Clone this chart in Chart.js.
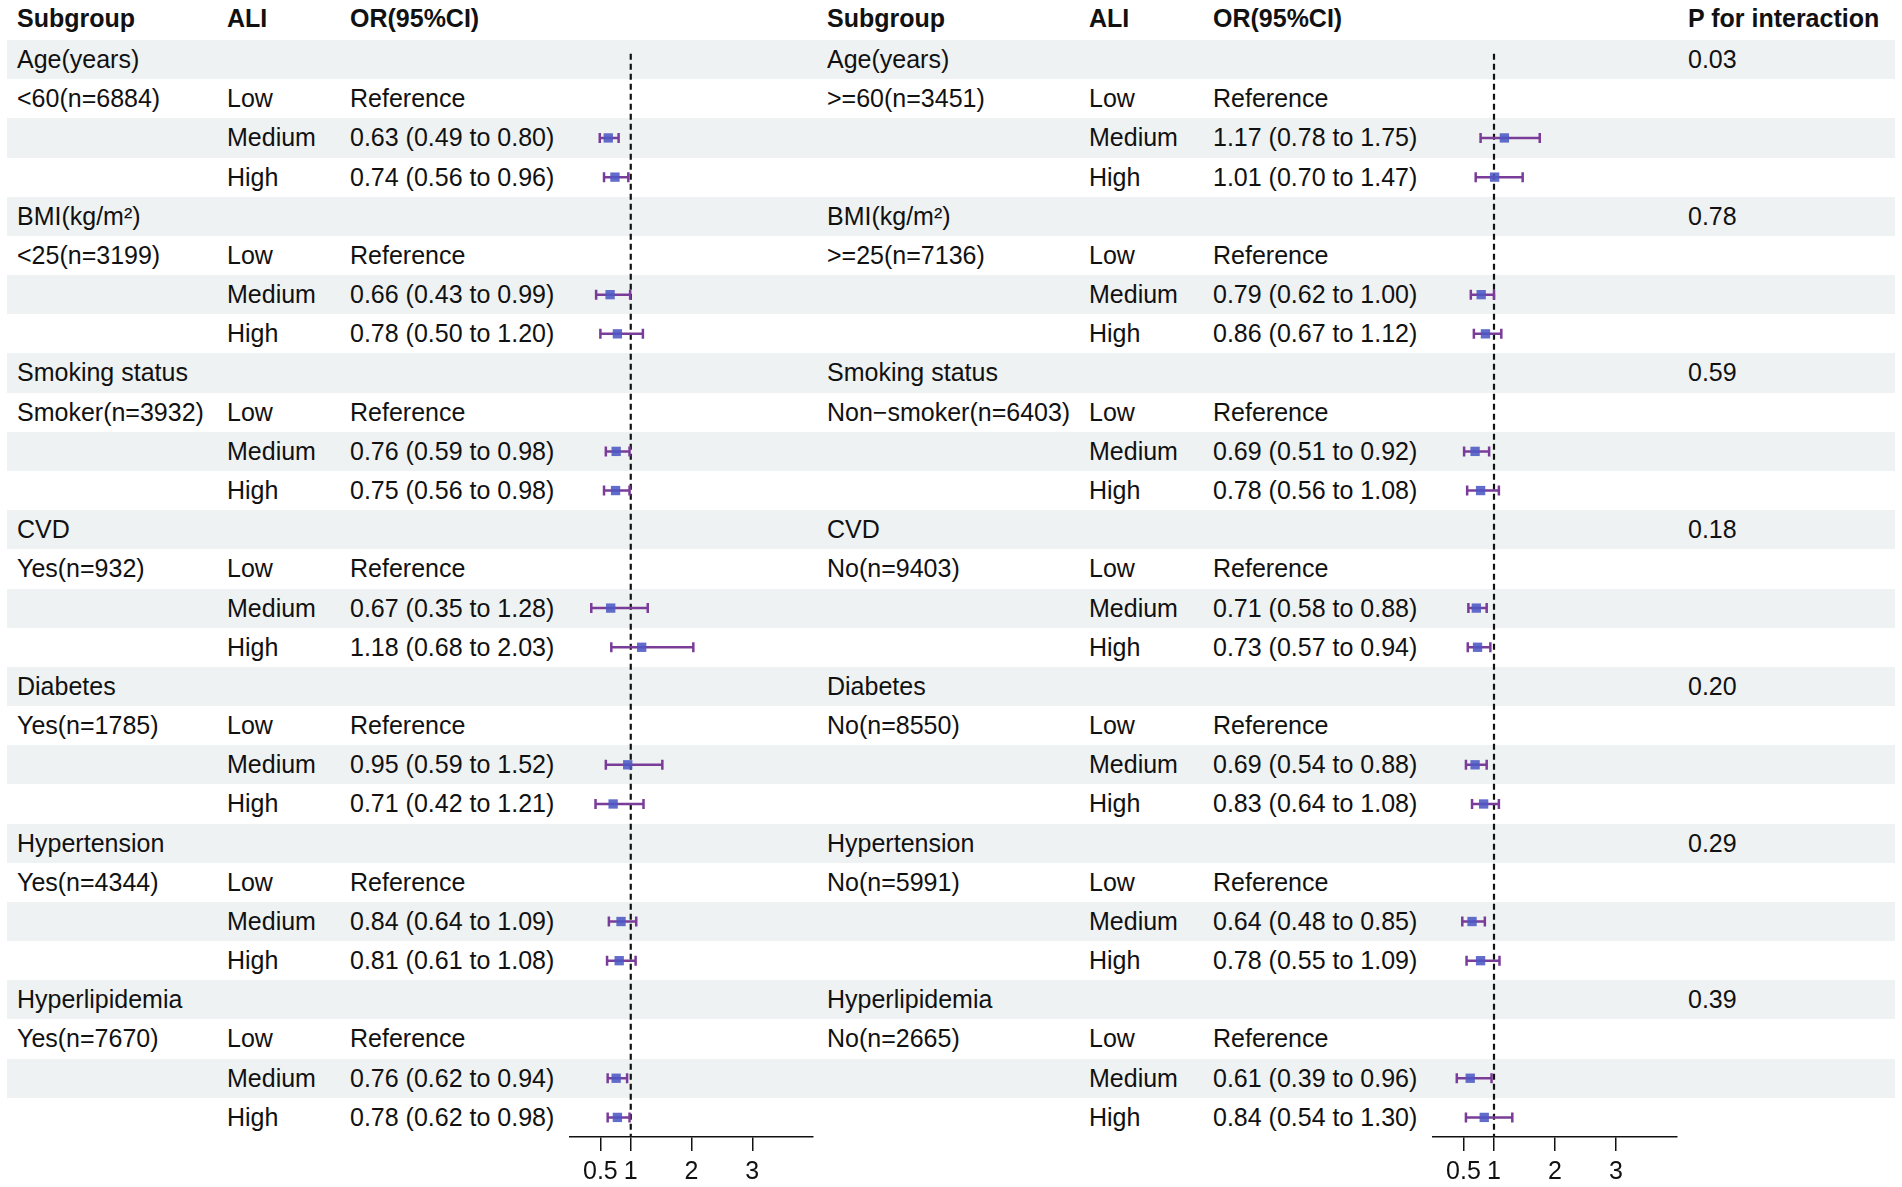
<!DOCTYPE html>
<html>
<head>
<meta charset="utf-8">
<script src="https://cdn.jsdelivr.net/npm/chart.js@4.4.0/dist/chart.umd.min.js"></script>
<style>
    body { margin: 0; background: #fff; }
    #page { position: relative; width: 1902px; height: 1187px; overflow: hidden;
            font-family: "Liberation Sans", Arial, Helvetica, sans-serif; font-size: 25px; color: #111; }
    .band { position: absolute; left: 7px; width: 1888px; background: #eff2f2; }
    .cell { position: absolute; white-space: nowrap; }
    .head { font-weight: bold; }
    .panel { position: absolute; left: 0; top: 0; width: 1902px; height: 1187px; }
</style>
</head>
<body>
<div id="page">
    <div id="table"></div>
    <div class="panel"><canvas id="left_chart"></canvas></div>
    <div class="panel"><canvas id="right_chart"></canvas></div>
</div>
<script>
/* Data */
const groups = ['Age(years)', 'BMI(kg/m²)', 'Smoking status', 'CVD', 'Diabetes', 'Hypertension', 'Hyperlipidemia'];
const levels = ['Low', 'Medium', 'High'];

const leftSubgroups = ['<60(n=6884)', '<25(n=3199)', 'Smoker(n=3932)', 'Yes(n=932)', 'Yes(n=1785)', 'Yes(n=4344)', 'Yes(n=7670)'];
const rightSubgroups = ['>=60(n=3451)', '>=25(n=7136)', 'Non\u2212smoker(n=6403)', 'No(n=9403)', 'No(n=8550)', 'No(n=5991)', 'No(n=2665)'];

// Medium, High for each group in turn
const leftEst   = [0.63, 0.74, 0.66, 0.78, 0.76, 0.75, 0.67, 1.18, 0.95, 0.71, 0.84, 0.81, 0.76, 0.78];
const leftLower = [0.49, 0.56, 0.43, 0.50, 0.59, 0.56, 0.35, 0.68, 0.59, 0.42, 0.64, 0.61, 0.62, 0.62];
const leftUpper = [0.80, 0.96, 0.99, 1.20, 0.98, 0.98, 1.28, 2.03, 1.52, 1.21, 1.09, 1.08, 0.94, 0.98];

const rightEst   = [1.17, 1.01, 0.79, 0.86, 0.69, 0.78, 0.71, 0.73, 0.69, 0.83, 0.64, 0.78, 0.61, 0.84];
const rightLower = [0.78, 0.70, 0.62, 0.67, 0.51, 0.56, 0.58, 0.57, 0.54, 0.64, 0.48, 0.55, 0.39, 0.54];
const rightUpper = [1.75, 1.47, 1.00, 1.12, 0.92, 1.08, 0.88, 0.94, 0.88, 1.08, 0.85, 1.09, 0.96, 1.30];

const pInteraction = ['0.03', '0.78', '0.59', '0.18', '0.20', '0.29', '0.39'];

const xTicks = [0.5, 1, 2, 3];

/* Layout */
const rowTop = 40;
const rowH = (1137 - 40) / 28;
const nRows = groups.length * 4;

const table = document.getElementById('table');

function addCell(text, x, top, height, cls) {
    const d = document.createElement('div');
    d.className = 'cell' + (cls ? ' ' + cls : '');
    d.style.left = x + 'px';
    d.style.top = top + 'px';
    d.style.lineHeight = height + 'px';
    d.textContent = text;
    table.appendChild(d);
}

// shaded bands on every other row
for (let i = 0; i < nRows; i += 2) {
    const b = document.createElement('div');
    b.className = 'band';
    b.style.top = (rowTop + i * rowH) + 'px';
    b.style.height = rowH + 'px';
    table.appendChild(b);
}

// header
[['Subgroup', 17], ['ALI', 227], ['OR(95%CI)', 350], ['Subgroup', 827], ['ALI', 1089], ['OR(95%CI)', 1213], ['P for interaction', 1688]]
    .forEach(h => addCell(h[0], h[1], -2, 40, 'head'));

const fmt = v => v.toFixed(2);

groups.forEach((g, gi) => {
    const r0 = rowTop + gi * 4 * rowH;
    addCell(g, 17, r0, rowH);
    addCell(g, 827, r0, rowH);
    addCell(pInteraction[gi], 1688, r0, rowH);
    addCell(leftSubgroups[gi], 17, r0 + rowH, rowH);
    addCell(rightSubgroups[gi], 827, r0 + rowH, rowH);
    levels.forEach((lv, k) => {
        const top = r0 + (k + 1) * rowH;
        addCell(lv, 227, top, rowH);
        addCell(lv, 1089, top, rowH);
        if (k === 0) {
            addCell('Reference', 350, top, rowH);
            addCell('Reference', 1213, top, rowH);
        } else {
            const j = gi * 2 + k - 1;
            addCell(fmt(leftEst[j]) + ' (' + fmt(leftLower[j]) + ' to ' + fmt(leftUpper[j]) + ')', 350, top, rowH);
            addCell(fmt(rightEst[j]) + ' (' + fmt(rightLower[j]) + ' to ' + fmt(rightUpper[j]) + ')', 1213, top, rowH);
        }
    });
});

/* Forest panels */
// row (from top) that holds estimate j: group header, Low, Medium, High
const rowOf = j => Math.floor(j / 2) * 4 + 2 + (j % 2) + 0.5;

const forestPlugin = {
    id: 'forest',
    beforeDatasetsDraw(chart) {
        const ctx = chart.ctx;
        const x = chart.scales.x;
        const y = chart.scales.y;
        const ds = chart.data.datasets[0];

        // reference line at OR = 1
        ctx.save();
        ctx.strokeStyle = '#111';
        ctx.lineWidth = 2.2;
        ctx.setLineDash([6, 4]);
        ctx.beginPath();
        ctx.moveTo(x.getPixelForValue(1), y.getPixelForValue(0.35));
        ctx.lineTo(x.getPixelForValue(1), y.getPixelForValue(nRows));
        ctx.stroke();
        ctx.restore();

        // confidence intervals
        ctx.save();
        ctx.strokeStyle = '#7a3c99';
        ctx.lineWidth = 2.5;
        ds.data.forEach(p => {
            const py = y.getPixelForValue(p.y);
            const x0 = x.getPixelForValue(p.lo);
            const x1 = x.getPixelForValue(p.hi);
            ctx.beginPath();
            ctx.moveTo(x0, py);
            ctx.lineTo(x1, py);
            ctx.moveTo(x0, py - 5);
            ctx.lineTo(x0, py + 5);
            ctx.moveTo(x1, py - 5);
            ctx.lineTo(x1, py + 5);
            ctx.stroke();
        });
        ctx.restore();
    }
};

function makePanel(canvasId, axisLeft, axisRight, est, lower, upper) {
    const points = est.map((v, j) => ({ x: v, y: rowOf(j), lo: lower[j], hi: upper[j] }));

    return new Chart(document.getElementById(canvasId), {
        type: 'scatter',
        data: {
            datasets: [{
                data: points,
                pointStyle: 'rect',
                pointRadius: 6.6,
                pointBorderWidth: 0,
                backgroundColor: 'rgba(76, 88, 196, 0.88)'
            }]
        },
        options: {
            responsive: true,
            maintainAspectRatio: false,
            animation: false,
            events: [],
            layout: {
                padding: { left: axisLeft, right: 1902 - axisRight, top: rowTop, bottom: 0 }
            },
            plugins: {
                legend: { display: false },
                tooltip: { enabled: false }
            },
            scales: {
                x: {
                    type: 'linear',
                    min: 0,
                    max: 4,
                    afterBuildTicks: scale => {
                        scale.ticks = xTicks.map(v => ({ value: v }));
                    },
                    afterFit: scale => { scale.height = 50; },
                    grid: { drawOnChartArea: false, drawTicks: true, tickLength: 14, color: '#111', lineWidth: 1.5 },
                    border: { display: true, color: '#111', width: 1.5 },
                    ticks: {
                        color: '#111',
                        padding: 6,
                        font: { family: '"Liberation Sans", Arial, sans-serif', size: 25 },
                        callback: v => String(v)
                    }
                },
                y: {
                    type: 'linear',
                    min: 0,
                    max: nRows,
                    reverse: true,
                    display: false
                }
            }
        },
        plugins: [forestPlugin]
    });
}

makePanel('left_chart', 570, 813, leftEst, leftLower, leftUpper);
makePanel('right_chart', 1433, 1677, rightEst, rightLower, rightUpper);
</script>
</body>
</html>
